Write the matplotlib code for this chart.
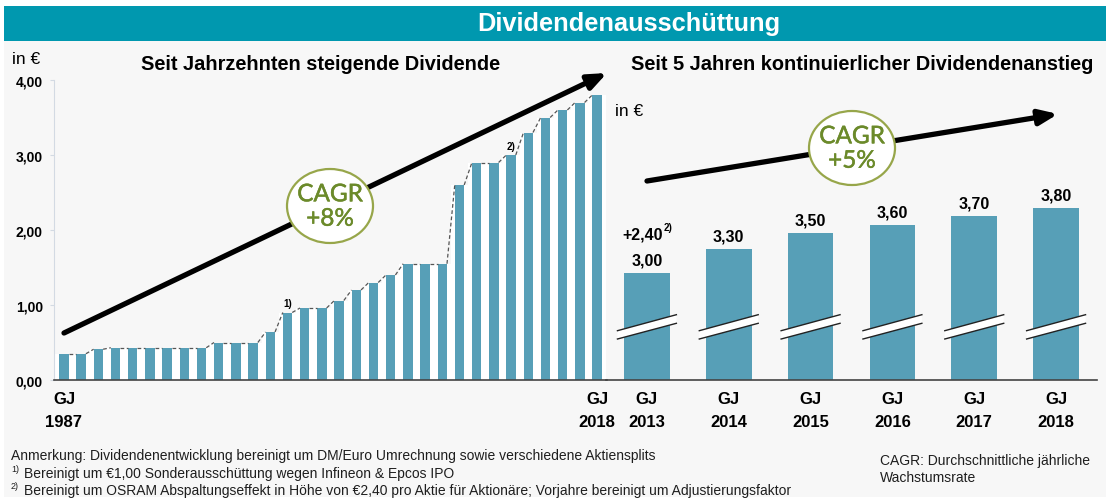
import matplotlib
matplotlib.use("Agg")
import matplotlib.pyplot as plt
from matplotlib.patches import Rectangle, Ellipse, Polygon
import matplotlib.patheffects as pe
import numpy as np

# ---------------- data ----------------
years_long = list(range(1987, 2019))
div_long = [0.35, 0.35, 0.41, 0.43, 0.43, 0.43, 0.43, 0.43, 0.43, 0.50,
            0.50, 0.50, 0.64, 0.90, 0.96, 0.96, 1.06, 1.20, 1.30, 1.40,
            1.55, 1.55, 1.55, 2.60, 2.90, 2.90, 3.00, 3.30, 3.50, 3.60,
            3.70, 3.80]
long_ticks = [0.0, 1.0, 2.0, 3.0, 4.0]
long_xlabels = ["GJ\n1987", "GJ\n2018"]

years_short = ["2013", "2014", "2015", "2016", "2017", "2018"]
div_short = [3.00, 3.30, 3.50, 3.60, 3.70, 3.80]
short_labels = ["3,00", "3,30", "3,50", "3,60", "3,70", "3,80"]

# ---------------- style ----------------
FONT = ["Liberation Sans", "DejaVu Sans"]
plt.rcParams["font.family"] = FONT
BAR = "#579FB7"
TEAL = "#0098AF"
BG = "#F7F7F7"
OLIVE_EDGE = "#97A64A"
OLIVE_TXT = "#6B8A2A"
W, H = 1110, 502

fig = plt.figure(figsize=(W / 100, H / 100), dpi=100)
fig.patch.set_facecolor("white")


def fx(px):
    return px / W


def fy(py):
    return 1 - py / H


# background overlay in pixel coordinates
bgax = fig.add_axes([0, 0, 1, 1], zorder=0)
bgax.set_xlim(0, W)
bgax.set_ylim(H, 0)
bgax.axis("off")
bgax.add_patch(Rectangle((4, 42), 1102, 456, facecolor=BG, edgecolor="none"))
bgax.add_patch(Rectangle((4, 7), 1102, 35, facecolor=TEAL, edgecolor="none"))
bgax.text(629, 24, "Dividendenausschüttung", color="white", fontsize=18.3,
          fontweight="bold", ha="center", va="center")

# ---------------- left chart ----------------
axL = fig.add_axes([fx(54), fy(381), fx(607) - fx(54), fy(81) - fy(381)], zorder=2)
axL.patch.set_alpha(0)
x = np.arange(len(div_long))
bw = 0.55
axL.bar(x, div_long, width=1.0, color="white", zorder=1)
axL.bar(x, div_long, width=bw, color=BAR, zorder=2)
for i in range(len(div_long) - 1):
    axL.plot([x[i] + bw / 2, x[i + 1] - bw / 2], [div_long[i], div_long[i + 1]],
             color="#555555", lw=0.9, ls=(0, (3, 2)), zorder=3)
axL.set_xlim(-0.58, len(div_long) - 0.42)
axL.set_ylim(0, 4)
axL.set_yticks(long_ticks)
axL.set_yticklabels([f"{v:.2f}".replace(".", ",") for v in long_ticks],
                    fontsize=10, fontweight="bold")
axL.tick_params(axis="y", length=3, color="#D3DAE3", pad=5)
axL.set_xticks([x[0], x[-1]])
axL.set_xticklabels(long_xlabels, fontsize=12, fontweight="bold", linespacing=1.65)
axL.tick_params(axis="x", length=0, pad=8)
for s in ["top", "right"]:
    axL.spines[s].set_visible(False)
axL.spines["left"].set_color("#D3DAE3")
axL.spines["bottom"].set_color("#444444")
axL.spines["bottom"].set_linewidth(1.2)
i1 = years_long.index(2000)
i2 = years_long.index(2013)
axL.annotate("1)", (x[i1], div_long[i1]), xytext=(0, 3), textcoords="offset points",
             ha="center", va="bottom", fontsize=7, fontweight="bold")
axL.annotate("2)", (x[i2], div_long[i2]), xytext=(0, 3), textcoords="offset points",
             ha="center", va="bottom", fontsize=7, fontweight="bold")

# ---------------- right chart ----------------
axR = fig.add_axes([fx(606), fy(381), fx(1097) - fx(606), fy(100) - fy(381)], zorder=2)
axR.patch.set_alpha(0)
xs = np.arange(len(div_short))
bw2 = 0.56
ybot = 1.687
ppu = 81.25
ytop = ybot + 281 / ppu
axR.bar(xs, div_short, width=bw2, color=BAR, zorder=2)
axR.set_xlim(-0.5, len(div_short) - 0.5)
axR.set_ylim(ybot, ytop)
axR.set_yticks([])
axR.set_xticks(xs)
axR.set_xticklabels([f"GJ\n{y}" for y in years_short], fontsize=12,
                    fontweight="bold", linespacing=1.65)
axR.tick_params(axis="x", length=0, pad=8)
for s in ["top", "right", "left"]:
    axR.spines[s].set_visible(False)
axR.spines["bottom"].set_color("#444444")
axR.spines["bottom"].set_linewidth(1.2)
hw = 0.36
y1a, y1b = ybot + (381 - 331.7) / ppu, ybot + (381 - 315.7) / ppu
y2a, y2b = ybot + (381 - 340.0) / ppu, ybot + (381 - 324.3) / ppu
for i, v in enumerate(div_short):
    axR.annotate(short_labels[i], (xs[i], v), xytext=(0, 4), textcoords="offset points",
                 ha="center", va="bottom", fontsize=11.5, fontweight="bold")
    # axis break marks
    poly = Polygon([[xs[i] - hw, y1a], [xs[i] + hw, y1b], [xs[i] + hw, y2b], [xs[i] - hw, y2a]],
                   closed=True, facecolor="white", edgecolor="none", zorder=3)
    axR.add_patch(poly)
    axR.plot([xs[i] - hw, xs[i] + hw], [y1a, y1b], color="#222222", lw=1.0, zorder=4)
    axR.plot([xs[i] - hw, xs[i] + hw], [y2a, y2b], color="#222222", lw=1.0, zorder=4)
axR.annotate("+2,40", (xs[0], div_short[0]), xytext=(-3, 23), textcoords="offset points",
             ha="center", va="bottom", fontsize=11.5, fontweight="bold")
axR.annotate("2)", (xs[0], div_short[0]), xytext=(12, 30), textcoords="offset points",
             ha="left", va="bottom", fontsize=7, fontweight="bold")

# ---------------- overlay: titles, arrows, CAGR bubbles, notes ----------------
ov = fig.add_axes([0, 0, 1, 1], zorder=5)
ov.set_xlim(0, W)
ov.set_ylim(H, 0)
ov.axis("off")

ov.text(321, 64, "Seit Jahrzehnten steigende Dividende", fontsize=14.4,
        fontweight="bold", ha="center", va="center")
ov.text(862, 64, "Seit 5 Jahren kontinuierlicher Dividendenanstieg", fontsize=14.4,
        fontweight="bold", ha="center", va="center")
ov.text(12, 59, "in €", fontsize=12.5, ha="left", va="center")
ov.text(615, 111, "in €", fontsize=12.5, ha="left", va="center")

ov.annotate("", xy=(607, 74), xytext=(64, 334),
            arrowprops=dict(arrowstyle="-|>,head_length=1.1,head_width=0.45",
                            lw=3.8, color="black", shrinkA=0, shrinkB=0))
ov.annotate("", xy=(1058, 115), xytext=(647, 182),
            arrowprops=dict(arrowstyle="-|>,head_length=1.1,head_width=0.45",
                            lw=3.8, color="black", shrinkA=0, shrinkB=0))

for cx, cy, txt in [(330, 207, "CAGR\n+8%"), (852, 149, "CAGR\n+5%")]:
    ov.add_patch(Ellipse((cx, cy), 86, 74, facecolor="white", edgecolor=OLIVE_EDGE,
                         lw=1.6, zorder=6))
    ov.text(cx, cy + 1, txt, fontsize=17.5, color=OLIVE_TXT, ha="center", va="center",
            family=["Lato", "DejaVu Sans"], linespacing=1.2, zorder=7,
            path_effects=[pe.withStroke(linewidth=0.35, foreground=OLIVE_TXT)])

NOTE = "#1E1E1E"
NFS = 10
ov.text(11, 456, "Anmerkung: Dividendenentwicklung bereinigt um DM/Euro Umrechnung "
        "sowie verschiedene Aktiensplits", fontsize=NFS, color=NOTE, ha="left", va="center")
ov.text(11, 470, "1)", fontsize=6.5, color=NOTE, ha="left", va="center")
ov.text(24, 474, "Bereinigt um €1,00 Sonderausschüttung wegen Infineon & Epcos IPO",
        fontsize=NFS, color=NOTE, ha="left", va="center")
ov.text(11, 487, "2)", fontsize=6.5, color=NOTE, ha="left", va="center")
ov.text(24, 491, "Bereinigt um OSRAM Abspaltungseffekt in Höhe von €2,40 pro Aktie "
        "für Aktionäre; Vorjahre bereinigt um Adjustierungsfaktor",
        fontsize=NFS, color=NOTE, ha="left", va="center")
ov.text(880, 461, "CAGR: Durchschnittliche jährliche", fontsize=NFS, color=NOTE,
        ha="left", va="center")
ov.text(880, 478, "Wachstumsrate", fontsize=NFS, color=NOTE, ha="left", va="center")

fig.savefig("out.png", dpi=100, facecolor=fig.get_facecolor())
